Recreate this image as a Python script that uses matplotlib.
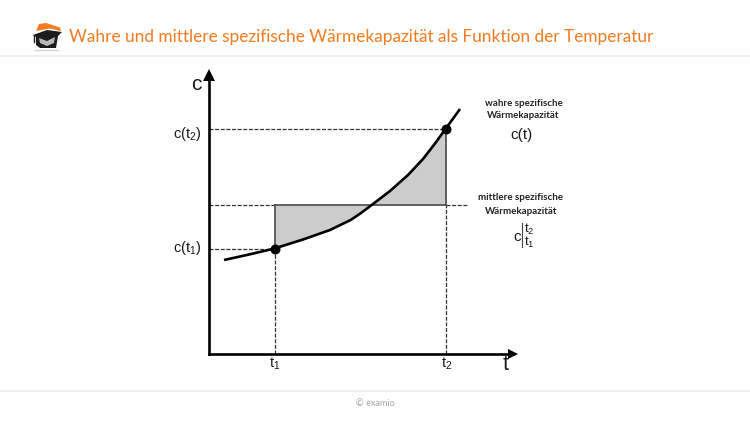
import numpy as np
import matplotlib
matplotlib.use("Agg")
import matplotlib.pyplot as plt
from matplotlib.patches import Polygon

plt.rcParams['font.family'] = ['Liberation Sans', 'DejaVu Sans']
plt.rcParams['mathtext.fontset'] = 'custom'
plt.rcParams['mathtext.rm'] = 'Liberation Sans'
plt.rcParams['mathtext.default'] = 'rm'

# ---- data (axis units) ----
curve_t = [15, 40, 65.5, 94, 121, 142, 152, 162.7, 181, 199, 214, 226, 236.5, 251]
curve_c = [94, 99.5, 105.5, 114.5, 124, 134.2, 141, 149, 163, 179, 195, 210.5, 225, 245]
t1, t2 = 65.5, 236.5
c1, c2, c_mean = 105.5, 225, 149
title = "Wahre und mittlere spezifische Wärmekapazität als Funktion der Temperatur"
footer = "© examio"

W, H = 750, 422
fig = plt.figure(figsize=(W / 100, H / 100), dpi=100, facecolor='white')

# page furniture, in pixel units
page = fig.add_axes([0, 0, 1, 1])
page.set_xlim(0, W)
page.set_ylim(H, 0)
page.axis('off')
page.plot([0, W], [55.5, 55.5], color='#f0f0f0', lw=1.5)
page.plot([0, W], [391, 391], color='#f0f0f0', lw=1.5)
page.text(69, 37, title, color='#f47b20', fontsize=12.4, family=['Lato', 'DejaVu Sans'],
          ha='left', va='center')
page.text(375.5, 403, footer, color='#a6a6a6', fontsize=6.6, family=['Lato', 'DejaVu Sans'],
          ha='center', va='center')
# logo
page.add_patch(Polygon([(36, 31), (39, 24), (46, 23), (60, 27.5), (61, 31), (50, 28.5), (41, 30)],
                       closed=True, fc='#f47b20', ec='none'))
page.add_patch(Polygon([(33, 35), (47, 30), (62, 32), (58, 36), (56, 48), (40, 48), (36, 45), (36, 37)],
                       closed=True, fc='#1c1c1c', ec='none'))
page.add_patch(Polygon([(39, 38), (47, 41), (55, 37), (54, 43), (47, 46), (40, 43)],
                       closed=True, fc='#b8b8b8', ec='none'))
page.plot([35, 58], [49.5, 49.5], color='#d0d0d0', lw=1)
page.plot([33.5, 33.5], [35, 42], color='#1c1c1c', lw=1)

# chart axes: origin at (209, 354), arrow bases near (513, 75)
ax = fig.add_axes([208.5 / W, 1 - 354 / H, 304 / W, 279 / H])
ax.patch.set_alpha(0)
ax.set_xlim(-0.5, 303.5)
ax.set_ylim(0, 279)
ax.set_xticks([])
ax.set_yticks([])
for s in ('top', 'right'):
    ax.spines[s].set_visible(False)
for s in ('left', 'bottom'):
    ax.spines[s].set_linewidth(1.9)
    ax.spines[s].set_color('black')
ax.plot(1, 0, '>', transform=ax.transAxes, color='black', ms=7, clip_on=False, mew=0)
ax.plot(0, 1, '^', transform=ax.transAxes, color='black', ms=8, clip_on=False, mew=0)

t = np.array(curve_t)
c = np.array(curve_c)
mask = (t >= t1) & (t <= t2)
ax.fill_between(t[mask], c[mask], c_mean, color='#cccccc', lw=0, zorder=1)

dash = dict(color='#333333', lw=0.9, dashes=(3.2, 1.3), zorder=2)
ax.plot([0, t2], [c2, c2], **dash)
ax.plot([0, t1], [c1, c1], **dash)
ax.plot([0, t1], [c_mean, c_mean], **dash)
ax.plot([t2, 258], [c_mean, c_mean], **dash)
ax.plot([t1, t1], [0, c1], **dash)
ax.plot([t2, t2], [0, c_mean], **dash)

solid = dict(color='#555555', lw=1.3, zorder=2)
ax.plot([t1, t2], [c_mean, c_mean], **solid)
ax.plot([t1, t1], [c1, c_mean], **solid)
ax.plot([t2, t2], [c_mean, c2], **solid)

ax.plot(t, c, color='black', lw=1.9, zorder=3, solid_capstyle='butt', solid_joinstyle='round')
ax.plot([t1, t2], [c1, c2], 'o', color='black', ms=7.2, mew=0, zorder=4)

# labels, placed in axis units
col = '#1a1a1a'
ax.text(-13, 270, "c", fontsize=15, color=col, ha='center', va='center', clip_on=False)
ax.text(296.5, -10, "t", fontsize=15.5, color=col, ha='center', va='center', clip_on=False)
ax.text(-22, 220, "c(t$_2$)", fontsize=10.5, color=col, ha='center', va='center', clip_on=False)
ax.text(-22, 106, "c(t$_1$)", fontsize=10.5, color=col, ha='center', va='center', clip_on=False)
ax.text(t1 + 0.5, -10, "t$_1$", fontsize=10.5, color=col, ha='center', va='center', clip_on=False)
ax.text(t2 + 1, -10, "t$_2$", fontsize=10.5, color=col, ha='center', va='center', clip_on=False)

bold = dict(fontsize=7.0, fontweight='bold', color='#222222', ha='center', va='center',
            family=['Lato', 'DejaVu Sans'], clip_on=False)
ax.text(314.5, 251, "wahre spezifische", **bold)
ax.text(314.5, 238, "Wärmekapazität", **bold)
ax.text(312.5, 219, "c(t)", fontsize=11, color=col, ha='center', va='center', clip_on=False)
ax.text(312, 156, "mittlere spezifische", **bold)
ax.text(312, 143, "Wärmekapazität", **bold)
ax.text(308, 117, "c", fontsize=11, color=col, ha='center', va='center', clip_on=False)
ax.plot([313.3, 313.3], [107, 131], color='#444444', lw=0.8, clip_on=False)
ax.text(315, 118, "t$_2$\nt$_1$", fontsize=9.5, color=col, ha='left', va='center',
        linespacing=0.85, clip_on=False)

fig.savefig("out.png", dpi=100)
